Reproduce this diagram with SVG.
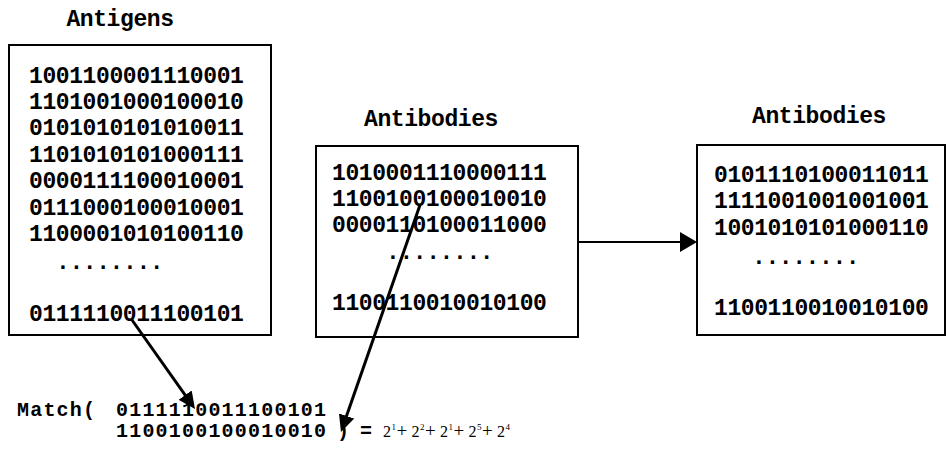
<svg xmlns="http://www.w3.org/2000/svg" width="948" height="459" viewBox="0 0 948 459">
<style>
.box{fill:#fff;stroke:#000;stroke-width:2}
.t{font-family:"Liberation Mono","Courier New",monospace;font-weight:bold;font-size:23px;letter-spacing:-0.4px;fill:#000}
.m{font-family:"Liberation Mono","Courier New",monospace;font-weight:bold;font-size:20px;letter-spacing:1.2px;fill:#000}
.f{font-family:"Liberation Serif","Times New Roman",serif;font-size:16px;fill:#000}
.p{font-family:"Liberation Serif","Times New Roman",serif;font-size:19px;fill:#000}
.s{font-family:"Liberation Serif","Times New Roman",serif;font-size:9px;fill:#000}
.c{stroke:#000;stroke-width:3;fill:none}
.h{stroke:#000;stroke-width:2;fill:none}
</style>
<defs>
<marker id="ah" viewBox="0 0 17 16" refX="12" refY="8" markerWidth="17" markerHeight="16" markerUnits="userSpaceOnUse" orient="auto"><path d="M0,0 L17,8 L0,16 z" fill="#000"/></marker>
<marker id="ahh" viewBox="0 0 17 20" refX="12" refY="10" markerWidth="17" markerHeight="20" markerUnits="userSpaceOnUse" orient="auto"><path d="M0,0 L17,10 L0,20 z" fill="#000"/></marker>
</defs>
<g id="antigens">
<text class="t" x="120" y="26" text-anchor="middle">Antigens</text>
<rect class="box" x="9" y="45" width="262" height="290"/>
<text class="t" x="29" y="83">1001100001110001</text>
<text class="t" x="29" y="109">1101001000100010</text>
<text class="t" x="29" y="135">0101010101010011</text>
<text class="t" x="29" y="162">1101010101000111</text>
<text class="t" x="29" y="188">0000111100010001</text>
<text class="t" x="29" y="215">0111000100010001</text>
<text class="t" x="29" y="241">1100001010100110</text>
<text class="t" x="56" y="269">........</text>
<text class="t" x="29" y="321">0111110011100101</text>
</g>
<g id="antibodies1">
<text class="t" x="431" y="126" text-anchor="middle">Antibodies</text>
<rect class="box" x="316" y="146" width="262" height="191"/>
<text class="t" x="332" y="180">1010001110000111</text>
<text class="t" x="332" y="206">1100100100010010</text>
<text class="t" x="332" y="232">0000110100011000</text>
<text class="t" x="386" y="259">........</text>
<text class="t" x="332" y="310">1100110010010100</text>
</g>
<g id="antibodies2">
<text class="t" x="819" y="123" text-anchor="middle">Antibodies</text>
<rect class="box" x="697" y="145" width="248" height="190"/>
<text class="t" x="714" y="182">0101110100011011</text>
<text class="t" x="714" y="208">1111001001001001</text>
<text class="t" x="714" y="235">1001010101000110</text>
<text class="t" x="752" y="264">........</text>
<text class="t" x="714" y="315">1100110010010100</text>
</g>
<g id="match">
<text class="m" x="17" y="416">Match(</text>
<text class="m" x="116" y="416">0111110011100101</text>
<text class="m" x="116" y="437">1100100100010010</text>
<text class="m" x="337" y="437">)</text>
<text class="m" x="360" y="437">=</text>
<text class="f" x="383" y="437">2</text><text class="s" x="391.5" y="430">1</text>
<text class="p" x="396.5" y="437">+</text>
<text class="f" x="411.5" y="437">2</text><text class="s" x="420" y="430">2</text>
<text class="p" x="425" y="437">+</text>
<text class="f" x="440" y="437">2</text><text class="s" x="448.5" y="430">1</text>
<text class="p" x="453.5" y="437">+</text>
<text class="f" x="468.5" y="437">2</text><text class="s" x="477" y="430">5</text>
<text class="p" x="482" y="437">+</text>
<text class="f" x="497" y="437">2</text><text class="s" x="505.5" y="430">4</text>
</g>
<g id="connectors">
<path class="c" d="M132,320 L192.1,404.9" marker-end="url(#ah)"/>
<path class="c" d="M420,205 L342.6,427.3" marker-end="url(#ah)"/>
<path class="h" d="M578,242 L692,242" marker-end="url(#ahh)"/>
</g>
</svg>
